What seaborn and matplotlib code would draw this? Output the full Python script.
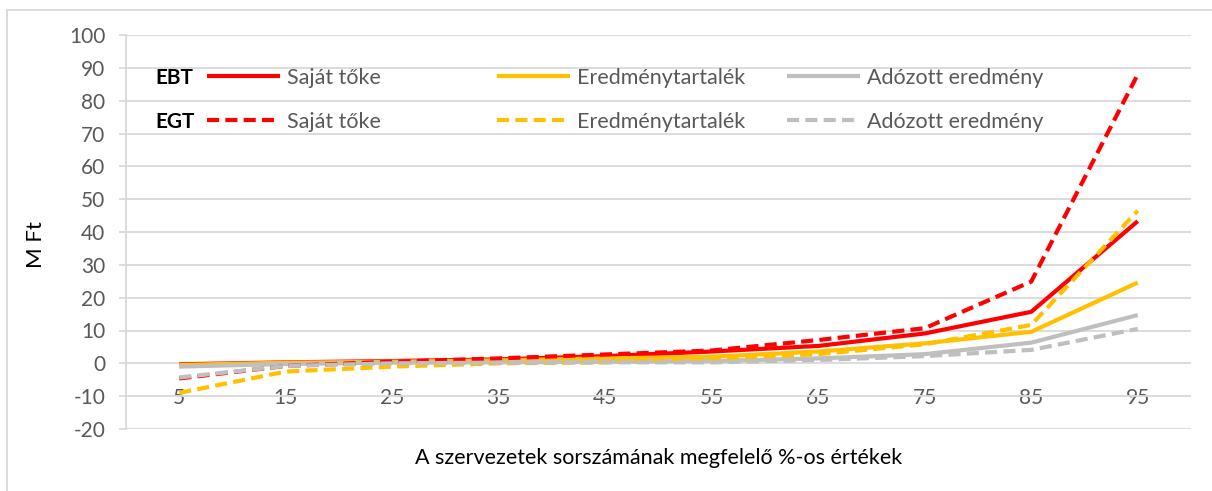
import matplotlib
matplotlib.use("Agg")
import matplotlib.pyplot as plt
from matplotlib.patches import Rectangle
import pandas as pd
import seaborn as sns

# Percentile positions of the organisations (x axis categories)
pct = [5, 15, 25, 35, 45, 55, 65, 75, 85, 95]
pct_labels = ["5", "15", "25", "35", "45", "55", "65", "75", "85", "95"]

# EBT series (M Ft)
ebt_sajat_toke = [-0.3, 0.3, 0.7, 1.2, 2.2, 3.6, 5.3, 9.1, 15.7, 43.3]
ebt_eredmenytartalek = [-0.5, 0.2, 0.5, 0.9, 1.5, 2.0, 3.6, 6.1, 9.6, 24.6]
ebt_adozott = [-1.0, -0.2, 0.2, 0.3, 0.5, 0.7, 1.5, 2.8, 6.3, 14.7]

# EGT series (M Ft)
egt_sajat_toke = [-4.6, -0.8, 0.5, 1.5, 2.7, 3.9, 7.1, 10.7, 24.9, 88.0]
egt_eredmenytartalek = [-9.0, -2.5, -1.0, 0.0, 0.3, 1.5, 2.8, 5.8, 11.7, 46.5]
egt_adozott = [-4.3, -0.8, 0.0, 0.2, 0.3, 0.3, 1.0, 2.2, 4.1, 10.5]

measure_labels = ["Saját tőke", "Eredménytartalék", "Adózott eredmény"]
group_labels = ["EBT", "EGT"]
y_ticks = list(range(-20, 101, 10))

RED, GOLD, GRAY = "#FF0000", "#FFC000", "#BFBFBF"
GRID = "#D9D9D9"
TICK_TXT = "#595959"

sns.set_theme(style="white")
plt.rcParams["font.family"] = ["Lato", "DejaVu Sans"]

W, H = 1212, 491
fig = plt.figure(figsize=(W / 100, H / 100), dpi=100)
ax = fig.add_axes([126 / W, 1 - 429 / H, (1191 - 126) / W, (429 - 35) / H])

series = [
    ("EBT", measure_labels[0], ebt_sajat_toke, RED),
    ("EBT", measure_labels[1], ebt_eredmenytartalek, GOLD),
    ("EBT", measure_labels[2], ebt_adozott, GRAY),
    ("EGT", measure_labels[0], egt_sajat_toke, RED),
    ("EGT", measure_labels[1], egt_eredmenytartalek, GOLD),
    ("EGT", measure_labels[2], egt_adozott, GRAY),
]

handles = {}
for group, measure, values, color in series:
    df = pd.DataFrame({"pct": pct, "value": values})
    sns.lineplot(data=df, x="pct", y="value", ax=ax, color=color,
                 linewidth=3.0, legend=False, solid_capstyle="butt")
    line = ax.lines[-1]
    if group == "EGT":
        line.set_dashes([2.9, 1.5])
    handles[(group, measure)] = line

# Axes styling
ax.set_xlim(0, 100)
ax.set_ylim(-20, 100)
ax.set_yticks(y_ticks)
ax.set_yticklabels([str(t) for t in y_ticks])
ax.set_xticks(pct)
ax.set_xticklabels(pct_labels)
ax.yaxis.grid(True, color=GRID, linewidth=1.3)
ax.xaxis.grid(False)
ax.set_axisbelow(True)
for side in ["top", "right"]:
    ax.spines[side].set_visible(False)
ax.spines["bottom"].set_position(("data", 0))
ax.spines["bottom"].set_visible(False)
ax.spines["left"].set_color(GRID)
ax.spines["left"].set_linewidth(1.3)
ax.tick_params(axis="y", colors=GRID, labelcolor=TICK_TXT, labelsize=15,
               length=5, width=1.3, pad=10, left=True)
ax.tick_params(axis="x", labelcolor=TICK_TXT, labelsize=15, length=0, pad=18)

ax.set_xlabel("A szervezetek sorszámának megfelelő %-os értékek",
              fontsize=15.5, color="black")
ax.xaxis.set_label_coords(0.5, -0.047)
ax.set_ylabel("M Ft", fontsize=16, color="black")
ax.yaxis.set_label_coords(-0.075, 0.467)

# Legend grid: row titles and one entry per series
row_y = {"EBT": 78, "EGT": 122}
col_x = [207, 497, 787]
for group in group_labels:
    fig.text(155 / W, 1 - row_y[group] / H, group, fontsize=15,
             fontweight="bold", color="black", va="center", ha="left")
    for i, measure in enumerate(measure_labels):
        leg = fig.legend(handles=[handles[(group, measure)]], labels=[measure],
                         loc="center left",
                         bbox_to_anchor=(col_x[i] / W, 1 - row_y[group] / H),
                         frameon=False, borderpad=0, borderaxespad=0,
                         handlelength=3.4, handletextpad=0.3, fontsize=15.5)
        for t in leg.get_texts():
            t.set_color(TICK_TXT)

# Chart area border (runs off the right and bottom edges)
fig.patches.append(Rectangle((7 / W, -0.02), 1.05, 1 - 10 / H + 0.02,
                             transform=fig.transFigure, fill=False,
                             edgecolor=GRID, linewidth=1.3, clip_on=False))

fig.savefig("out.png", dpi=100, facecolor="white")
